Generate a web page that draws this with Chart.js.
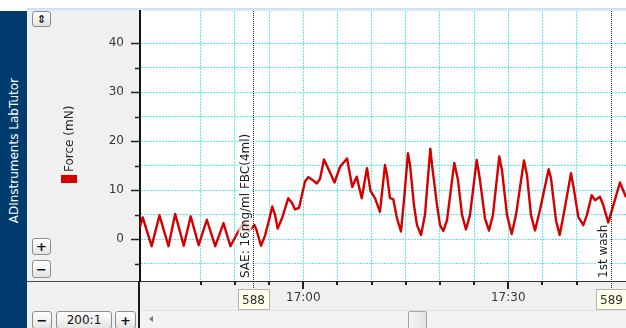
<!DOCTYPE html>
<html>
<head>
<meta charset="utf-8">
<title>Force (mN)</title>
<script src="https://cdn.jsdelivr.net/npm/chart.js@4/dist/chart.umd.min.js"></script>
<style>
  html, body { margin: 0; padding: 0; }
  body {
    width: 626px; height: 328px; position: relative; overflow: hidden;
    background: #f0f0f0; font-family: "DejaVu Sans", Verdana, sans-serif;
  }
  #topStrip { position: absolute; left: 0; top: 0; width: 626px; height: 8px; background: #fff; }
  #topCorner { position: absolute; left: 0; top: 8px; width: 27px; height: 3px; background: #fff; }
  #topLine { position: absolute; left: 27px; top: 8px; width: 599px; height: 3px;
             background: linear-gradient(#c9def0, #e3eef8); }
  #brand { position: absolute; left: 0; top: 11px; width: 27px; height: 317px; background: #003b6e; }
  #brandText { position: absolute; left: 0; top: 11px; width: 27px; height: 279px;
               display: flex; align-items: center; justify-content: center; }
  #brandText span { writing-mode: vertical-rl; transform: rotate(180deg); color: #fff;
                    font-size: 12px; white-space: nowrap; }
  .btn { position: absolute; box-sizing: border-box; border: 1px solid #8d8d8d; border-radius: 3px;
         background: linear-gradient(#ffffff, #e4e4e4); color: #111; font-weight: bold;
         display: flex; align-items: center; justify-content: center; font-size: 13px; line-height: 1; }
  #axisFoot { position: absolute; left: 27px; top: 281px; width: 113px; height: 1px; background: #4a4a4a; }
  #axisStem { position: absolute; left: 138px; top: 281px; width: 2px; height: 47px; background: #1c1c1c; }
  #scrollTrack { position: absolute; left: 140px; top: 310px; width: 486px; height: 18px;
                 background: #f3f3f3; border-top: 1px solid #e0e0e0; box-sizing: border-box; }
  #scrollArrow { position: absolute; left: 149px; top: 316px; width: 0; height: 0;
                 border-top: 3px solid transparent; border-bottom: 3px solid transparent;
                 border-right: 4px solid #7a7a7a; }
  #scrollThumb { position: absolute; left: 408px; top: 311px; width: 19px; height: 19px; box-sizing: border-box;
                 border: 1px solid #a5a5a5; border-radius: 2px; background: linear-gradient(90deg, #f6f6f6, #e2e2e2); }
  #chart { position: absolute; left: 0; top: 0; z-index: 2; }
</style>
</head>
<body>
<div id="topStrip"></div>
<div id="topCorner"></div>
<div id="topLine"></div>
<div id="brand"></div>
<div id="brandText"><span>ADInstruments LabTutor</span></div>

<div class="btn" style="left:32px;top:11px;width:19px;height:16px;font-size:11px;">⇕</div>
<div class="btn" style="left:32px;top:238px;width:19px;height:17px;">+</div>
<div class="btn" style="left:32px;top:260px;width:19px;height:18px;">−</div>

<div id="axisFoot"></div>
<div id="axisStem"></div>

<div class="btn" style="left:32px;top:311px;width:20px;height:18px;">−</div>
<div class="btn" style="left:56px;top:311px;width:56px;height:18px;font-weight:normal;font-size:12px;">200:1</div>
<div class="btn" style="left:115px;top:311px;width:21px;height:18px;">+</div>

<div id="scrollTrack"></div>
<div id="scrollArrow"></div>
<div id="scrollThumb"></div>

<canvas id="chart" width="626" height="328"></canvas>

<script>
// Force trace: time in minutes of the day, force in mN
const timeMin = [
  996.03, 996.50, 997.80, 998.95, 1000.27, 1001.25, 1002.50, 1003.52, 1004.69, 1005.88,
  1007.11, 1008.32, 1009.33, 1010.44, 1011.32, 1012.05, 1012.86, 1013.15, 1013.81, 1014.39,
  1014.91, 1015.46, 1015.86, 1016.25, 1016.88, 1017.80, 1018.35, 1018.79, 1019.37, 1020.25,
  1020.73, 1021.46, 1021.96, 1022.44, 1023.03, 1023.76, 1024.57, 1025.37, 1025.85, 1026.40,
  1026.69, 1027.17, 1027.81, 1028.55, 1029.32, 1029.83, 1030.49, 1031.22, 1031.96, 1032.25,
  1032.69, 1033.17, 1033.71, 1034.30, 1034.74, 1035.32, 1035.62, 1036.20, 1036.64, 1037.23,
  1037.81, 1038.59, 1038.84, 1039.57, 1040.01, 1040.49, 1041.03, 1042.10, 1042.64, 1043.23,
  1043.81, 1044.40, 1045.38, 1045.86, 1046.59, 1047.18, 1047.76, 1048.68, 1049.08, 1049.81,
  1050.50, 1051.13, 1052.30, 1052.74, 1053.32, 1053.91, 1054.64, 1055.91, 1056.25, 1056.98,
  1057.52, 1058.15, 1059.18, 1059.62, 1060.25, 1060.98, 1061.52, 1062.21, 1062.69, 1063.42,
  1063.90, 1064.64, 1065.18, 1066.35, 1067.23
];
const forceMN = [
  2.3, 4.5, -1.4, 4.9, -1.4, 5.2, -1.3, 4.7, -1.2, 4.0,
  -1.4, 3.3, -1.4, 1.5, 3.5, 1.7, 2.9, 1.9, -1.3, 0.7,
  3.5, 6.7, 5.0, 2.2, 4.3, 8.4, 7.4, 6.1, 6.4, 11.8,
  12.7, 12.0, 11.4, 12.3, 16.3, 14.1, 11.6, 14.8, 15.6, 16.5,
  14.3, 10.7, 12.8, 8.4, 14.5, 9.9, 8.4, 5.6, 15.2, 13.1,
  8.4, 8.2, 4.3, 1.6, 8.0, 17.6, 15.2, 7.0, 2.9, 0.9,
  5.0, 18.5, 15.2, 7.0, 2.9, 1.7, 3.9, 15.6, 12.1, 5.0,
  2.0, 5.0, 16.2, 12.1, 4.3, 1.8, 5.0, 16.9, 14.1, 5.0,
  1.1, 5.0, 16.1, 13.1, 5.0, 1.8, 6.0, 14.3, 12.5, 3.9,
  0.9, 5.4, 13.5, 10.1, 4.6, 2.9, 5.0, 9.0, 8.0, 8.7,
  7.0, 3.4, 6.0, 11.6, 8.6
];

// Event markers (comments)
const markerTime = [1012.68, 1065.07];
const markerNumber = ['588', '589'];
const markerComment = ['SAE: 16mg/ml FBC(4ml)', '1st wash'];

// Labelled ticks
const timeTickLabels = [1020, 1050];          // 17:00, 17:30
const forceTickLabels = [0, 10, 20, 30, 40];

const TEXT_FONT = '12px "DejaVu Sans", Verdana, sans-serif';
const TRACE_RED = '#d40000';
const GRID_CYAN = '#55ecff';

function clockLabel(m) {
  const h = Math.floor(m / 60);
  const mm = Math.round(m - h * 60);
  return h + ':' + String(mm).padStart(2, '0');
}
function onStep(v, step) {
  return Math.abs(v / step - Math.round(v / step)) < 1e-6;
}

const decor = {
  id: 'labchartDecor',
  beforeDraw(chart) {
    const { ctx, chartArea: a } = chart;
    ctx.save();
    ctx.fillStyle = '#ffffff';
    ctx.fillRect(a.left, a.top, a.right - a.left, a.bottom - a.top);
    ctx.restore();
  },
  afterDatasetsDraw(chart) {
    const { ctx, chartArea: a, scales: { x } } = chart;
    ctx.save();
    ctx.font = TEXT_FONT;
    markerTime.forEach((t, i) => {
      const px = Math.round(x.getPixelForValue(t)) + 0.5;
      // comment text, rotated, with a light backing
      const w = ctx.measureText(markerComment[i]).width;
      ctx.save();
      ctx.translate(px - 5, a.bottom - 3);
      ctx.rotate(-Math.PI / 2);
      ctx.fillStyle = 'rgba(255,255,255,0.7)';
      ctx.fillRect(-1, -10, w + 2, 13);
      ctx.fillStyle = '#1e1e1e';
      ctx.textAlign = 'left';
      ctx.textBaseline = 'alphabetic';
      ctx.fillText(markerComment[i], 0, 0);
      ctx.restore();
      // dotted marker line
      ctx.save();
      ctx.strokeStyle = '#2a2a2a';
      ctx.lineWidth = 1;
      ctx.setLineDash([1, 1]);
      ctx.beginPath();
      ctx.moveTo(px, a.top);
      ctx.lineTo(px, a.bottom + 8);
      ctx.stroke();
      ctx.restore();
      // numbered box under the axis
      const bw = 31, bh = 20, bx = Math.round(px - bw / 2) + 0.5, by = a.bottom + 8.5;
      ctx.fillStyle = '#ffffea';
      ctx.fillRect(bx, by, bw, bh);
      ctx.strokeStyle = '#b4b4b4';
      ctx.lineWidth = 1;
      ctx.strokeRect(bx, by, bw, bh);
      ctx.fillStyle = '#2e2e2e';
      ctx.textAlign = 'center';
      ctx.textBaseline = 'middle';
      ctx.fillText(markerNumber[i], px, by + bh / 2 + 1);
    });
    ctx.restore();
  },
  afterDraw(chart) {
    const { ctx, chartArea: a, scales: { x, y } } = chart;
    ctx.save();
    ctx.strokeStyle = '#222';
    // y tick marks: long at labelled values, short between
    ctx.lineWidth = 1.5;
    y.ticks.forEach(t => {
      const py = Math.round(y.getPixelForValue(t.value)) + 0.5;
      const len = forceTickLabels.includes(t.value) ? 9 : 5;
      ctx.beginPath();
      ctx.moveTo(a.left - len, py);
      ctx.lineTo(a.left, py);
      ctx.stroke();
    });
    // x tick marks
    ctx.lineWidth = 2;
    x.ticks.forEach(t => {
      const px = Math.round(x.getPixelForValue(t.value));
      const len = timeTickLabels.includes(t.value) ? 8 : 4;
      ctx.beginPath();
      ctx.moveTo(px, a.bottom);
      ctx.lineTo(px, a.bottom + len);
      ctx.stroke();
    });
    // channel title with its colour swatch
    const ds = chart.data.datasets[0];
    ctx.font = TEXT_FONT;
    ctx.fillStyle = ds.borderColor;
    ctx.fillRect(61, 175, 16, 8);
    ctx.save();
    ctx.translate(73, 172);
    ctx.rotate(-Math.PI / 2);
    ctx.fillStyle = '#2a2a2a';
    ctx.textAlign = 'left';
    ctx.textBaseline = 'alphabetic';
    ctx.fillText(ds.label, 0, 0);
    ctx.restore();
    ctx.restore();
  }
};

new Chart(document.getElementById('chart'), {
  type: 'line',
  data: {
    datasets: [{
      label: 'Force (mN)',
      data: timeMin.map((t, i) => ({ x: t, y: forceMN[i] })),
      borderColor: TRACE_RED,
      borderWidth: 2.4,
      borderJoinStyle: 'round',
      tension: 0,
      pointRadius: 0,
      fill: false
    }]
  },
  options: {
    responsive: false,
    animation: false,
    devicePixelRatio: 1,
    layout: { padding: { top: 11, left: 0, right: 0, bottom: 0 } },
    plugins: { legend: { display: false }, tooltip: { enabled: false } },
    scales: {
      x: {
        type: 'linear',
        min: 996.1,
        max: 1067.23,
        afterFit: s => { s.height = 47; s.paddingLeft = 0; s.paddingRight = 0; },
        afterBuildTicks: s => { s.ticks = s.ticks.filter(t => onStep(t.value, 5)); },
        ticks: {
          stepSize: 5,
          autoSkip: false,
          maxRotation: 0,
          padding: 10,
          color: '#383838',
          font: { family: '"DejaVu Sans", Verdana, sans-serif', size: 12 },
          callback: v => timeTickLabels.includes(v) ? clockLabel(v) : ''
        },
        grid: { color: GRID_CYAN, lineWidth: 1, drawTicks: false },
        border: { display: true, color: '#333', width: 1, dash: [2, 1] }
      },
      y: {
        type: 'linear',
        min: -8.5,
        max: 46.6,
        afterFit: s => { s.width = 140; s.paddingTop = 0; s.paddingBottom = 0; },
        afterBuildTicks: s => { s.ticks = s.ticks.filter(t => onStep(t.value, 5)); },
        ticks: {
          stepSize: 5,
          autoSkip: false,
          padding: 16,
          color: '#383838',
          font: { family: '"DejaVu Sans", Verdana, sans-serif', size: 12 },
          callback: v => forceTickLabels.includes(v) ? String(v) : ''
        },
        grid: { color: GRID_CYAN, lineWidth: 1, drawTicks: false },
        border: { display: true, color: '#111', width: 2, dash: [2, 1] }
      }
    }
  },
  plugins: [decor]
});
</script>
</body>
</html>
